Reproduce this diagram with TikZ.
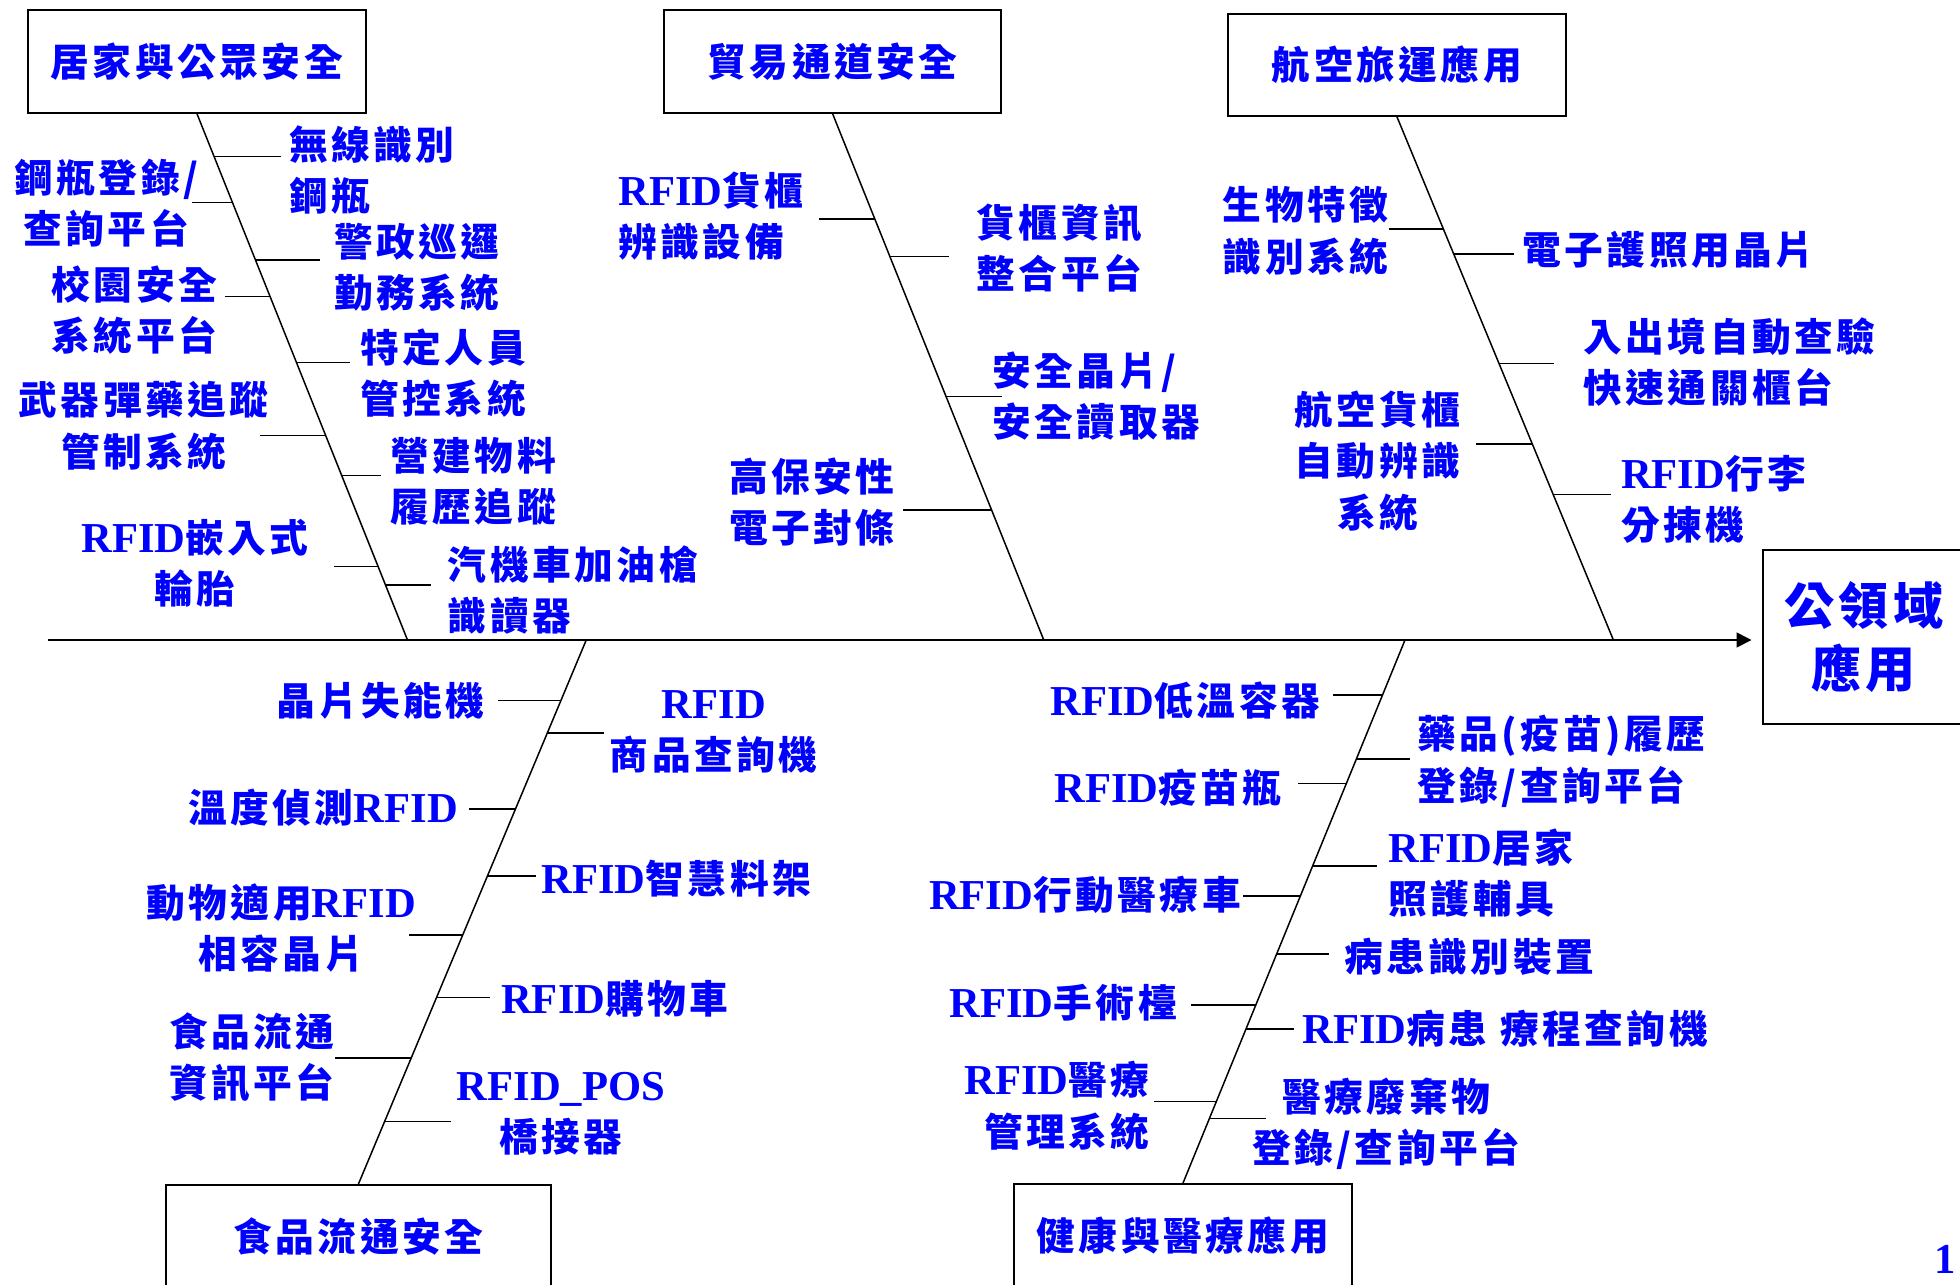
\documentclass[tikz,border=0pt]{standalone}
\usepackage{fontspec}
\setmainfont{Noto Sans CJK TC}[LetterSpace=9]
\newfontfamily\enfont{Liberation Serif}[Scale=1.1]
\usepackage{tikz}
\usetikzlibrary{arrows.meta}
\newcommand{\en}[1]{{\enfont #1}}
\newcommand{\itemfont}{\fontsize{23.25}{30.75}\selectfont\bfseries}
\newcommand{\headfont}{\fontsize{30}{37.5}\selectfont\bfseries}
\tikzset{
  cat/.style={draw, line width=1.2pt, inner sep=0pt, text=blue, font=\itemfont},
  item/.style={inner sep=0pt, text=blue, font=\itemfont},
  bone/.style={line width=0.9pt},
  rib/.style={line width=0.9pt, shorten >=4.5pt},
}
\begin{document}
\begin{tikzpicture}[x=0.75pt,y=0.75pt,yscale=-1,xscale=1]
  \useasboundingbox (0,0) rectangle (1568,1028);
  % category boxes
  \node (home)   at (157.5,49)    [cat, minimum width=203.25pt, minimum height=61.5pt] {居家與公眾安全};
  \node (trade)  at (666,49)      [cat, minimum width=202.5pt,  minimum height=61.5pt] {貿易通道安全};
  \node (air)    at (1117.5,51.75)[cat, minimum width=203.25pt, minimum height=61.1pt] {航空旅運應用};
  \node (food)   at (286.75,989)  [cat, minimum width=230.6pt,  minimum height=61.5pt] {食品流通安全};
  \node (health) at (946.3,988.5) [cat, minimum width=202.9pt,  minimum height=61.5pt] {健康與醫療應用};
  \node (head)   at (1491,509.5)  [cat, font=\headfont, align=center, minimum width=121.5pt, minimum height=104.25pt] {公領域\\應用};
  % spine
  \coordinate (tail) at (38,512);
  \coordinate (s1) at (326,512);
  \coordinate (s2) at (835,512);
  \coordinate (s3) at (1290.7,512);
  \coordinate (s4) at (469,512);
  \coordinate (s5) at (1124,512);
  \draw [line width=1pt, shorten >=6pt, -{Triangle[length=9pt,width=9pt]}] (tail) -- (tail -| head.west);
  \draw [bone] (home.south) -- (s1);
  \draw [bone] (trade.south) -- (s2);
  \draw [bone] (air.south) -- (s3);
  \draw [bone] (s4) -- (food.north);
  \draw [bone] (s5) -- (health.north);

  % 居家與公眾安全
  \node (h1) at (231,100)   [item, anchor=north west, align=left]   {無線識別\\鋼瓶};
  \node (h2) at (85,127)    [item, anchor=north, align=center]      {鋼瓶登錄/\\查詢平台};
  \node (h3) at (267,178)   [item, anchor=north west, align=left]   {警政巡邏\\勤務系統};
  \node (h4) at (107.5,212) [item, anchor=north, align=center]      {校園安全\\系統平台};
  \node (h5) at (288,263)   [item, anchor=north west, align=left]   {特定人員\\管控系統};
  \node (h6) at (115,305)   [item, anchor=north, align=center]      {武器彈藥追蹤\\管制系統};
  \node (h7) at (312,349.5) [item, anchor=north west, align=left]   {營建物料\\履歷追蹤};
  \node (h8) at (156,415)   [item, anchor=north, align=center]      {\en{RFID}嵌入式\\輪胎};
  \node (h9) at (358,436)   [item, anchor=north west, align=left]   {汽機車加油槍\\識讀器};
  \coordinate (hr1) at (intersection of home.south--s1 and 0,125--1,125);
  \coordinate (hr2) at (intersection of home.south--s1 and 0,162--1,162);
  \coordinate (hr3) at (intersection of home.south--s1 and 0,208--1,208);
  \coordinate (hr4) at (intersection of home.south--s1 and 0,237--1,237);
  \coordinate (hr5) at (intersection of home.south--s1 and 0,290--1,290);
  \coordinate (hr6) at (intersection of home.south--s1 and 0,348.5--1,348.5);
  \coordinate (hr7) at (intersection of home.south--s1 and 0,380.5--1,380.5);
  \coordinate (hr8) at (intersection of home.south--s1 and 0,453--1,453);
  \coordinate (hr9) at (intersection of home.south--s1 and 0,468--1,468);
  \draw [rib] (hr1) -- (hr1 -| h1.west);
  \draw [rib, shorten >=-3.75pt] (hr2) -- (hr2 -| h2.east);
  \draw [rib, shorten >=8.25pt] (hr3) -- (hr3 -| h3.west);
  \draw [rib] (hr4) -- (hr4 -| h4.east);
  \draw [rib, shorten >=6pt] (hr5) -- (hr5 -| h5.west);
  \draw [rib, shorten >=-5.25pt] (hr6) -- (hr6 -| h6.east);
  \draw [rib, shorten >=5.25pt] (hr7) -- (hr7 -| h7.west);
  \draw [rib, shorten >=15pt] (hr8) -- (hr8 -| h8.east);
  \draw [rib, shorten >=9.75pt] (hr9) -- (hr9 -| h9.west);

  % 貿易通道安全
  \node (t1) at (494.5,137) [item, anchor=north west, align=left]   {\en{RFID}貨櫃\\辨識設備};
  \node (t2) at (781,163)   [item, anchor=north west, align=left]   {貨櫃資訊\\整合平台};
  \node (t3) at (793.6,281) [item, anchor=north west, align=left]   {安全晶片/\\安全讀取器};
  \node (t4) at (716,366)   [item, anchor=north east, align=center] {高保安性\\電子封條};
  \coordinate (tr1) at (intersection of trade.south--s2 and 0,175--1,175);
  \coordinate (tr2) at (intersection of trade.south--s2 and 0,205--1,205);
  \coordinate (tr3) at (intersection of trade.south--s2 and 0,317--1,317);
  \coordinate (tr4) at (intersection of trade.south--s2 and 0,408--1,408);
  \draw [rib, shorten >=9pt] (tr1) -- (tr1 -| t1.east);
  \draw [rib, shorten >=16.5pt] (tr2) -- (tr2 -| t2.west);
  \draw [rib, shorten >=-6pt] (tr3) -- (tr3 -| t3.west);
  \draw [rib] (tr4) -- (tr4 -| t4.east);

  % 航空旅運應用
  \node (a1) at (1111,149)    [item, anchor=north east, align=center] {生物特徵\\識別系統};
  \node (a2) at (1217.6,185)  [item, anchor=north west]               {電子護照用晶片};
  \node (a3) at (1266.5,253.7)[item, anchor=north west, align=left]   {入出境自動查驗\\快速通關櫃台};
  \node (a4) at (1102,312.6)  [item, anchor=north, align=center]      {航空貨櫃\\自動辨識\\系統};
  \node (a5) at (1296.6,364)  [item, anchor=north west, align=left]   {\en{RFID}行李\\分揀機};
  \coordinate (ar1) at (intersection of air.south--s3 and 0,183--1,183);
  \coordinate (ar2) at (intersection of air.south--s3 and 0,203--1,203);
  \coordinate (ar3) at (intersection of air.south--s3 and 0,290.7--1,290.7);
  \coordinate (ar4) at (intersection of air.south--s3 and 0,355--1,355);
  \coordinate (ar5) at (intersection of air.south--s3 and 0,395.7--1,395.7);
  \draw [rib, shorten >=0pt] (ar1) -- (ar1 -| a1.east);
  \draw [rib, shorten >=5pt] (ar2) -- (ar2 -| a2.west);
  \draw [rib, shorten >=17.25pt] (ar3) -- (ar3 -| a3.west);
  \draw [rib, shorten >=9.5pt] (ar4) -- (ar4 -| a4.east);
  \draw [rib, shorten >=5.7pt] (ar5) -- (ar5 -| a5.west);

  % 食品流通安全
  \node (f1) at (388,546)     [item, anchor=north east]               {晶片失能機};
  \node (f2) at (571,552)     [item, anchor=north, align=center]      {\en{RFID}\\商品查詢機};
  \node (f3) at (366.5,631)   [item, anchor=north east]               {溫度偵測\en{RFID}};
  \node (f4) at (433,687.7)   [item, anchor=north west]               {\en{RFID}智慧料架};
  \node (f5) at (225,706.6)   [item, anchor=north, align=center]      {動物適用\en{RFID}\\相容晶片};
  \node (f6) at (400.7,783.7) [item, anchor=north west]               {\en{RFID}購物車};
  \node (f7) at (268,809.6)   [item, anchor=north east, align=center] {食品流通\\資訊平台};
  \node (f8) at (448.7,857.4) [item, anchor=north, align=center]      {\en{RFID\_POS}\\橋接器};
  \coordinate (fr1) at (intersection of s4--food.north and 0,560.5--1,560.5);
  \coordinate (fr2) at (intersection of s4--food.north and 0,586.5--1,586.5);
  \coordinate (fr3) at (intersection of s4--food.north and 0,647--1,647);
  \coordinate (fr4) at (intersection of s4--food.north and 0,700.6--1,700.6);
  \coordinate (fr5) at (intersection of s4--food.north and 0,747.8--1,747.8);
  \coordinate (fr6) at (intersection of s4--food.north and 0,798--1,798);
  \coordinate (fr7) at (intersection of s4--food.north and 0,846.4--1,846.4);
  \coordinate (fr8) at (intersection of s4--food.north and 0,897--1,897);
  \draw [rib, shorten >=8pt] (fr1) -- (fr1 -| f1.east);
  \draw [rib, shorten >=3.5pt] (fr2) -- (fr2 -| f2.west);
  \draw [rib, shorten >=6.4pt] (fr3) -- (fr3 -| f3.east);
  \draw [rib, shorten >=3.3pt] (fr4) -- (fr4 -| f4.west);
  \draw [rib, shorten >=-4.5pt] (fr5) -- (fr5 -| f5.east);
  \draw [rib, shorten >=6.5pt] (fr6) -- (fr6 -| f6.west);
  \draw [rib, shorten >=0pt] (fr7) -- (fr7 -| f7.east);
  \draw [rib, shorten >=3.4pt] (fr8) -- (fr8 -| f8.west);

  % 健康與醫療應用
  \node (m1)  at (1056.4,545)  [item, anchor=north east]               {\en{RFID}低溫容器};
  \node (m2)  at (1133.6,572)  [item, anchor=north west, align=left]   {藥品(疫苗)履歷\\登錄/查詢平台};
  \node (m3)  at (1025.6,614.7)[item, anchor=north east]               {\en{RFID}疫苗瓶};
  \node (m4)  at (1110.6,662.6)[item, anchor=north west, align=left]   {\en{RFID}居家\\照護輔具};
  \node (m5)  at (993,701)     [item, anchor=north east]               {\en{RFID}行動醫療車};
  \node (m6)  at (1075,750)    [item, anchor=north west]               {病患識別裝置};
  \node (m7)  at (941.7,787)   [item, anchor=north east]               {\en{RFID}手術檯};
  \node (m8)  at (1041.8,808)  [item, anchor=north west]               {\en{RFID}病患 療程查詢機};
  \node (m9)  at (920,849)     [item, anchor=north east, align=right]  {\en{RFID}醫療\\管理系統};
  \node (m10) at (1109,862)    [item, anchor=north, align=center]      {醫療廢棄物\\登錄/查詢平台};
  \coordinate (mr1)  at (intersection of s5--health.north and 0,556--1,556);
  \coordinate (mr2)  at (intersection of s5--health.north and 0,607--1,607);
  \coordinate (mr3)  at (intersection of s5--health.north and 0,626.6--1,626.6);
  \coordinate (mr4)  at (intersection of s5--health.north and 0,692.8--1,692.8);
  \coordinate (mr5)  at (intersection of s5--health.north and 0,716.6--1,716.6);
  \coordinate (mr6)  at (intersection of s5--health.north and 0,763--1,763);
  \coordinate (mr7)  at (intersection of s5--health.north and 0,804--1,804);
  \coordinate (mr8)  at (intersection of s5--health.north and 0,823--1,823);
  \coordinate (mr9)  at (intersection of s5--health.north and 0,881--1,881);
  \coordinate (mr10) at (intersection of s5--health.north and 0,894.6--1,894.6);
  \draw [rib, shorten >=7.2pt] (mr1)  -- (mr1  -| m1.east);
  \draw [rib, shorten >=4.2pt] (mr2)  -- (mr2  -| m2.west);
  \draw [rib, shorten >=9.3pt] (mr3)  -- (mr3  -| m3.east);
  \draw [rib, shorten >=6.6pt] (mr4)  -- (mr4  -| m4.west);
  \draw [rib, shorten >=1.3pt] (mr5)  -- (mr5  -| m5.east);
  \draw [rib, shorten >=9pt] (mr6)  -- (mr6  -| m6.west);
  \draw [rib, shorten >=8.25pt] (mr7)  -- (mr7  -| m7.east);
  \draw [rib, shorten >=5.1pt] (mr8)  -- (mr8  -| m8.west);
  \draw [rib, shorten >=2.1pt] (mr9)  -- (mr9  -| m9.east);
  \draw [rib, shorten >=-8.25pt] (mr10) -- (mr10 -| m10.west);

  % page number
  \node (pg) at (1556,1019) [item, anchor=base] {\en{1}};
\end{tikzpicture}
\end{document}
